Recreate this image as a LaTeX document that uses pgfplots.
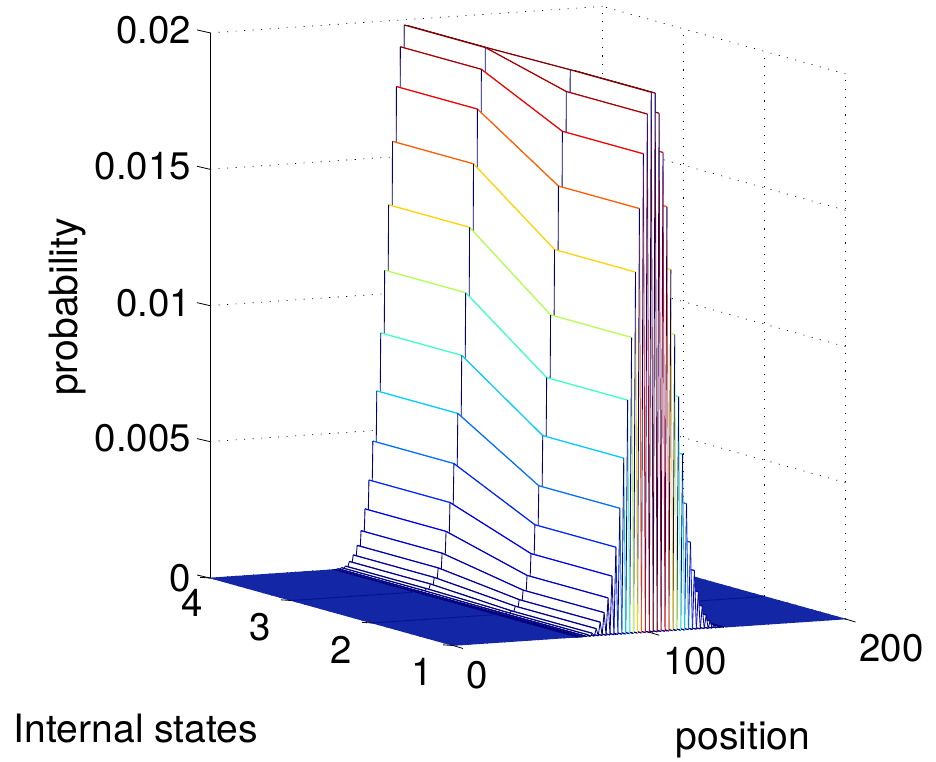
\documentclass[border=0pt]{standalone}
\usepackage{fontspec}
\setmainfont{TeX Gyre Heros}
\usepackage{pgfplots}
\usepackage{pgfplotstable}
\pgfplotsset{compat=1.18}
\pgfplotstableread{
x z4 z3 z2 z1
62 0 0 0 0
63 0 0 0 0
64 0 0 0 0
65 0.00002 0.00002 0 0
66 0 0 0 0
67 0.00005 0.00005 0.00002 0.00002
68 0 0 0 0
69 0.00010 0.00010 0.00005 0.00005
70 0 0 0 0
71 0.00026 0.00026 0.00010 0.00010
72 0 0 0 0
73 0.00049 0.00049 0.00026 0.00026
74 0 0 0 0
75 0.00083 0.00083 0.00049 0.00049
76 0 0 0 0
77 0.00136 0.00136 0.00083 0.00083
78 0 0 0 0
79 0.00215 0.00215 0.00136 0.00136
80 0 0 0 0
81 0.00320 0.00320 0.00215 0.00215
82 0 0 0 0
83 0.00462 0.00462 0.00320 0.00320
84 0 0 0 0
85 0.00645 0.00645 0.00462 0.00462
86 0 0 0 0
87 0.00857 0.00857 0.00645 0.00645
88 0 0 0 0
89 0.01086 0.01086 0.00857 0.00857
90 0 0 0 0
91 0.01325 0.01325 0.01086 0.01086
92 0 0 0 0
93 0.01557 0.01557 0.01325 0.01325
94 0 0 0 0
95 0.01757 0.01757 0.01557 0.01557
96 0 0 0 0
97 0.01902 0.01902 0.01757 0.01757
98 0 0 0 0
99 0.01981 0.01981 0.01902 0.01902
100 0 0 0 0
101 0.01977 0.01977 0.01981 0.01981
102 0 0 0 0
103 0.01902 0.01902 0.01977 0.01977
104 0 0 0 0
105 0.01757 0.01757 0.01902 0.01902
106 0 0 0 0
107 0.01557 0.01557 0.01757 0.01757
108 0 0 0 0
109 0.01325 0.01325 0.01557 0.01557
110 0 0 0 0
111 0.01086 0.01086 0.01325 0.01325
112 0 0 0 0
113 0.00857 0.00857 0.01086 0.01086
114 0 0 0 0
115 0.00645 0.00645 0.00857 0.00857
116 0 0 0 0
117 0.00462 0.00462 0.00645 0.00645
118 0 0 0 0
119 0.00320 0.00320 0.00462 0.00462
120 0 0 0 0
121 0.00215 0.00215 0.00320 0.00320
122 0 0 0 0
123 0.00136 0.00136 0.00215 0.00215
124 0 0 0 0
125 0.00083 0.00083 0.00136 0.00136
126 0 0 0 0
127 0.00049 0.00049 0.00083 0.00083
128 0 0 0 0
129 0.00026 0.00026 0.00049 0.00049
130 0 0 0 0
131 0.00010 0.00010 0.00026 0.00026
132 0 0 0 0
133 0.00005 0.00005 0.00010 0.00010
134 0 0 0 0
135 0.00002 0.00002 0.00005 0.00005
136 0 0 0 0
137 0 0 0.00002 0.00002
138 0 0 0 0
}\T
\newcommand\jetcol[1]{%
 \pgfmathsetmacro\jt{min(1,#1*1000/19.8)}%
 \pgfmathsetmacro\jr{max(0,min(1,min(4*\jt-1.5,4.5-4*\jt)))}%
 \pgfmathsetmacro\jg{max(0,min(1,min(4*\jt-0.5,3.5-4*\jt)))}%
 \pgfmathsetmacro\jb{max(0,min(1,min(4*\jt+0.5,2.5-4*\jt)))}%
 \edef\jc{rgb,1:red,\jr;green,\jg;blue,\jb}%
}
\def\segw{0.85pt}
\newcommand\seg[7]{%
 \jetcol{#7}%
 \edef\tmp{\noexpand\addplot3[draw={\jc},line width=\segw,no marks,forget plot] coordinates {(#1,#2,#3)(#4,#5,#6)};}\tmp
}
\newcommand\getz[2]{\pgfplotstablegetelem{#1}{#2}\of\T\edef\gv{\pgfplotsretval}}
\newcommand\zigbuild[3]{% #1 macro, #2 first, #3 last
 \def\zig{}%
 \pgfplotsforeachungrouped \i in {#2,\the\numexpr#2+2\relax,...,#3}{%
  \pgfmathtruncatemacro\j{\i+1}%
  \edef\zig{\zig(\i,1,0)(\i,4,0)(\j,4,0)(\j,1,0)}%
 }%
 \let#1\zig
}
\definecolor{floorblue}{rgb}{0.07,0.15,0.65}
\definecolor{floordark}{rgb}{0.02,0.08,0.55}
\newcommand\sz{\fontsize{28.8}{32}\selectfont}
\newcommand\szl{\fontsize{29.3}{32}\selectfont}
\tikzset{tk/.style={black,line width=0.6pt}}
\begin{document}
\begin{tikzpicture}
\zigbuild\zigL{0}{60}
\zigbuild\zigR{138}{198}
\begin{axis}[
 name=ax,
 x={(1.4719pt,0.0994pt)},
 y={(-60.75pt,16.875pt)},
 z={(0pt,20.4375pt)},
 z coord trafo/.code={\pgfmathparse{#1*1000}},
 z coord inv trafo/.code={\pgfmathparse{#1/1000}},
 xmin=0,xmax=200,ymin=1,ymax=4,zmin=0,zmax=0.02,
 xtick={0,100,200},ytick={1,2,3},ztick={0,0.005,0.01,0.015,0.02},
 extra y ticks={4},extra y tick labels={4},
 extra y tick style={yticklabel style={xshift=9.75pt,yshift=1.5pt,font=\sz},grid=major},
 xticklabels={0,100,200},yticklabels={1,2,3},zticklabels={0,0.005,0.01,0.015,0.02},
 grid=major,
 grid style={black,line width=0.5pt,dash pattern=on 0.8pt off 5.6pt},
 tick style={draw=none},
 major tick length=8pt,
 tick align=outside,
 axis line style={draw=none},
 ticklabel style={font=\sz},
 xticklabel style={anchor=west,xshift=-0.75pt,yshift=-19.75pt},
 yticklabel style={xshift=-2.25pt,yshift=-6pt},
 zticklabel style={xshift=-3pt,yshift=-3.5pt},
 clip=false,
]
\coordinate (O) at (axis cs:0,4,0);
\draw[tk] (axis cs:0,4,0) -- (axis cs:0,4,0.02);
\draw[tk] (axis cs:0,4,0) -- ++(-9.75pt,2.25pt);
\draw[tk] (axis cs:0,4,0.005) -- ++(-9.75pt,2.25pt);
\draw[tk] (axis cs:0,4,0.01) -- ++(-9.75pt,2.25pt);
\draw[tk] (axis cs:0,4,0.015) -- ++(-9.75pt,2.25pt);
\draw[tk] (axis cs:0,4,0.02) -- ++(-9.75pt,2.25pt);
\edef\tmp{\noexpand\addplot3[draw=floorblue,line width=0.5pt,no marks,forget plot] coordinates {\zigR(200,1,0)(200,4,0)};}\tmp
\addplot3[draw=floordark,line width=0.7pt,no marks,forget plot] coordinates {(138,2,0)(200,2,0)};
\addplot3[draw=floordark,line width=0.7pt,no marks,forget plot] coordinates {(138,3,0)(200,3,0)};
\pgfplotsforeachungrouped \k in {0,1,...,75}{%
 \pgfmathtruncatemacro\r{75-\k}%
 \pgfmathtruncatemacro\rr{\r+1}%
 \pgfmathtruncatemacro\xa{62+\r}%
 \pgfmathtruncatemacro\xb{\xa+1}%
 \getz\r{z4}\let\aD\gv \getz\r{z3}\let\aC\gv \getz\r{z2}\let\aB\gv \getz\r{z1}\let\aA\gv
 \getz\rr{z4}\let\bD\gv \getz\rr{z3}\let\bC\gv \getz\rr{z2}\let\bB\gv \getz\rr{z1}\let\bA\gv
 \edef\tmp{\noexpand\addplot3[fill=white,draw=none,no marks,forget plot] coordinates {(\xa,4,\aD)(\xa,3,\aC)(\xa,2,\aB)(\xa,1,\aA)(\xb,1,\bA)(\xb,2,\bB)(\xb,3,\bC)(\xb,4,\bD)} --cycle;}\tmp
 \def\segw{0.85pt}%
 \seg{\xb}{4}{\bD}{\xb}{3}{\bC}{\bC}%
 \seg{\xb}{3}{\bC}{\xb}{2}{\bB}{\bB}%
 \seg{\xb}{2}{\bB}{\xb}{1}{\bA}{\bA}%
 \def\segw{0.65pt}%
 \seg{\xa}{4}{\aD}{\xb}{4}{\bD}{\aD}%
 \seg{\xa}{3}{\aC}{\xb}{3}{\bC}{\aC}%
 \seg{\xa}{2}{\aB}{\xb}{2}{\bB}{\aB}%
 \seg{\xa}{1}{\aA}{\xb}{1}{\bA}{\aA}%
 \def\segw{0.85pt}%
 \seg{\xa}{4}{\aD}{\xa}{3}{\aC}{\aC}%
 \seg{\xa}{3}{\aC}{\xa}{2}{\aB}{\aB}%
 \seg{\xa}{2}{\aB}{\xa}{1}{\aA}{\aA}%
}
\edef\tmp{\noexpand\addplot3[draw=floorblue,line width=0.5pt,no marks,forget plot] coordinates {\zigL(62,1,0)(62,4,0)};}\tmp
\addplot3[draw=floordark,line width=0.7pt,no marks,forget plot] coordinates {(0,2,0)(62,2,0)};
\addplot3[draw=floordark,line width=0.7pt,no marks,forget plot] coordinates {(0,3,0)(62,3,0)};
\draw[tk] (axis cs:0,1,0) -- ++(-7.5pt,0.5pt);
\draw[tk] (axis cs:0,2,0) -- ++(-7.5pt,0.5pt);
\draw[tk] (axis cs:0,3,0) -- ++(-7.5pt,0.5pt);
\draw[tk] (axis cs:0,4,0) -- ++(-7.5pt,0.5pt);
\draw[tk] (axis cs:0,1,0) -- ++(7.5pt,-2.25pt);
\draw[tk] (axis cs:100,1,0) -- ++(7.5pt,-2.25pt);
\draw[tk] (axis cs:200,1,0) -- ++(7.5pt,-2.25pt);
\end{axis}
\pgfresetboundingbox
\path[use as bounding box] (O) ++(-157.5pt,-137.25pt) rectangle ++(702pt,570.75pt);
\node[font=\szl,anchor=center] at ([shift={(-55.5pt,-113.25pt)}] O) {Internal states};
\node[font=\szl,anchor=center] at ([shift={(399.75pt,-121.5pt)}] O) {position};
\node[font=\szl,anchor=center,rotate=90] at ([shift={(-106.5pt,203.25pt)}] O) {probability};
\end{tikzpicture}
\end{document}
